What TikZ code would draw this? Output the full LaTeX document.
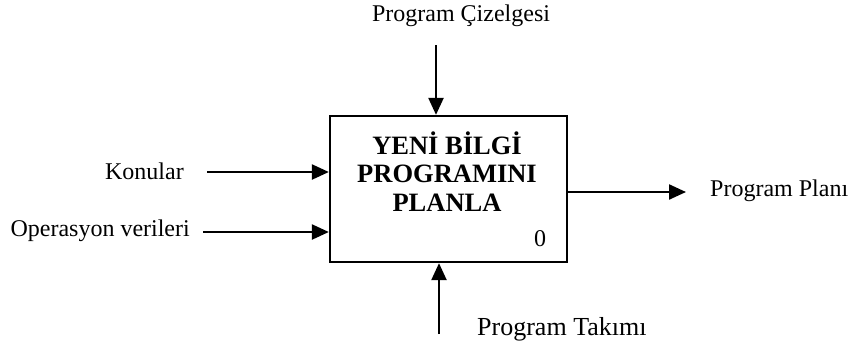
\documentclass[tikz,border=0pt]{standalone}
\usepackage{fontspec}
\setmainfont{Liberation Serif}
\usetikzlibrary{arrows.meta}
\begin{document}
\begin{tikzpicture}[x=1pt,y=-1pt,
  flow/.style={line width=2.3pt,-{Triangle[length=17pt,width=15pt]}},
  lbl/.style={inner sep=0pt,font=\fontsize{24}{27}\selectfont},
  act/.style={draw,line width=2.3pt,minimum width=237pt,minimum height=146pt,inner sep=0pt}]
\useasboundingbox (0,0) rectangle (851,349);
% activity box
\node[act] (box) at (448.5,189) {};
\node[inner sep=0pt,align=center,font=\fontsize{26.5}{28.5}\selectfont\bfseries] (title) at (447,171.5) {YENİ BİLGİ\\PROGRAMINI\\PLANLA};
\node[lbl] (num) at (540,239) {0};
% labels
\node[lbl] (ctl) at (461,15.5) {Program Çizelgesi};
\node[lbl,anchor=east] (in1) at (184,171) {Konular};
\node[lbl,anchor=east] (in2) at (190,231) {Operasyon verileri};
\node[lbl,anchor=west] (out) at (710,191) {Program Planı};
\node[inner sep=0pt,anchor=west,font=\fontsize{26}{30}\selectfont] (mech) at (477,329) {Program Takımı};
% end points of the connectors
\coordinate (ctlS) at (436,45);
\coordinate (in1S) at (207,172);
\coordinate (in2S) at (203,232);
\coordinate (outE) at (686,192);
\coordinate (mechS) at (439,334);
% connectors
\draw[flow] (ctlS) -- (ctlS |- box.north);
\draw[flow] (in1S) -- (in1S -| box.west);
\draw[flow] (in2S) -- (in2S -| box.west);
\draw[flow] (outE -| box.east) -- (outE);
\draw[flow] (mechS) -- (mechS |- box.south);
\end{tikzpicture}
\end{document}
